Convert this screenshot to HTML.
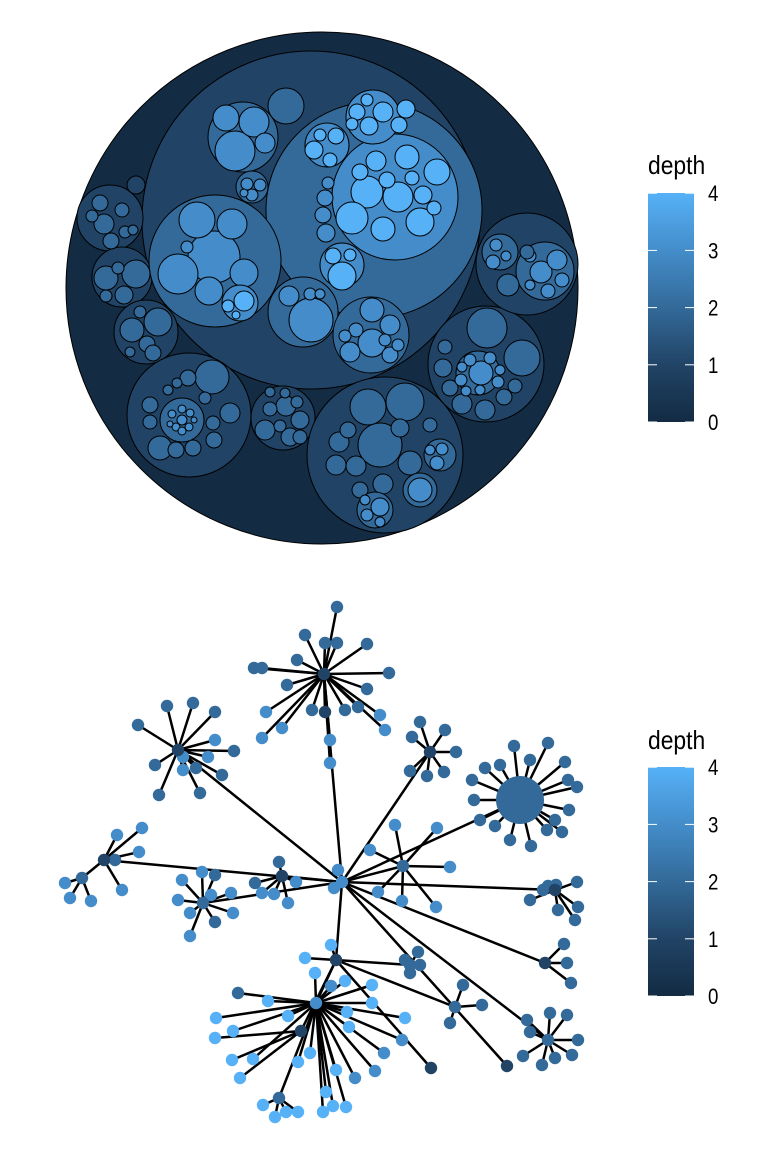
<!DOCTYPE html>
<html><head><meta charset="utf-8"><style>
body{margin:0;background:#fff;width:768px;height:1152px;overflow:hidden}
svg{display:block}
text{font-family:"Liberation Sans",sans-serif}
</style></head><body>
<svg id="chart" width="768" height="1152">
<defs><linearGradient id="grad" x1="0" y1="1" x2="0" y2="0">
<stop offset="0" stop-color="#132B43"/><stop offset="0.25" stop-color="#214466"/><stop offset="0.5" stop-color="#336A99"/><stop offset="0.75" stop-color="#448DCA"/><stop offset="1" stop-color="#56B1F7"/></linearGradient></defs>
<g id="pack"></g>
<g id="net"></g>
<g id="legends"></g>
</svg>
<script>
// circle packing: [x, y, r, depth]
const packCircles = [
[322,288,256,0],
[311,220,169,1],[110,218,33,1],[136,185,9,1],[122,277,30,1],[146,332,32,1],[189,415,62,1],[283,418,32,1],[385,455,78,1],[486,364,58,1],[527,264,51,1],
[374,210,108,2],[215,261,66,2],[243,137,35,2],[286,106,18,2],[252,187,16,2],[303,312,35,2],[371,335,38,2],
[214,257,26,3],[178,274,20,3],[197,220,18,3],[232,224,15,3],[244,273,14,3],[209,291,14,3],[240,303,18,3],[187,247,6,3],
[244,301,10,4],[228,306,6,4],[236,315,4,4],
[235,151,20,3],[254,122,15,3],[226,118,13,3],[265,143,10,3],
[247,184,6,3],[260,185,6,3],[252,195,6,3],[244,193,4,3],
[311,320,22,3],[289,296,10,3],[310,294,6,3],[320,294,5,3],
[372,343,14,3],[372,310,12,3],[390,325,10,3],[350,352,10,3],[390,355,8,3],[356,330,7,3],[345,336,6,3],[398,345,6,3],[385,340,6,3],
[395,197,63,3],[367,192,16,4],[352,218,16,4],[398,197,15,4],[420,222,14,4],[383,229,12,4],[407,157,12,4],[437,172,13,4],[376,161,10,4],[387,180,8,4],[423,195,9,4],[434,208,7,4],[360,172,8,4],[412,178,7,4],
[342,265,22,3],[342,276,14,4],[333,256,8,4],[350,255,6,4],
[327,145,22,3],[314,150,9,4],[330,160,7,4],[336,136,8,4],[320,135,6,4],
[373,117,27,3],[383,112,10,4],[357,112,8,4],[369,126,9,4],[399,125,8,4],[406,109,9,4],[352,124,6,4],[367,100,6,4],
[328,183,6,3],[325,198,8,3],[323,215,8,3],[326,233,9,3],
[104,224,10,2],[100,203,8,2],[122,210,7,2],[111,241,8,2],[125,232,6,2],[92,216,6,2],[133,230,5,2],
[106,278,12,2],[136,274,14,2],[118,268,6,2],[124,295,9,2],[106,296,6,2],
[158,322,14,2],[132,330,12,2],[147,344,8,2],[130,352,5,2],[153,353,8,2],[140,312,6,2],
[212,377,17,2],[188,378,8,2],[230,413,10,2],[160,448,12,2],[176,450,8,2],[193,448,8,2],[214,440,8,2],[213,423,7,2],[150,405,8,2],[168,390,5,2],[177,383,5,2],[150,422,7,2],[205,398,6,2],[182,420,22,2],
[182,420,5,3],[172,414,4,3],[190,413,4,3],[176,427,4,3],[189,427,4,3],[182,409,4,3],[182,431,4,3],[170,424,3,3],[194,420,3,3],
[265,430,10,2],[286,406,10,2],[300,420,9,2],[290,437,9,2],[270,409,7,2],[280,426,6,2],[297,402,6,2],[300,437,7,2],[270,392,5,2],[285,393,5,2],
[380,445,22,2],[405,402,19,2],[368,407,18,2],[410,463,12,2],[339,442,10,2],[336,465,10,2],[356,466,10,2],[383,484,10,2],[400,428,9,2],[348,430,8,2],[430,425,7,2],[360,490,8,2],
[420,490,17,2],[420,490,12,3],
[440,455,16,2],[437,463,7,3],[442,449,6,3],[430,450,5,3],
[375,510,18,2],[380,507,9,3],[367,515,6,3],[380,522,5,3],[365,500,5,3],
[487,328,20,2],[522,358,18,2],[443,368,9,2],[462,404,10,2],[485,410,10,2],[504,397,8,2],[450,388,8,2],[515,386,7,2],[445,347,7,2],
[478,373,22,2],[481,373,12,3],[461,380,6,3],[498,382,6,3],[470,360,6,3],[490,358,6,3],[462,367,5,3],[500,370,5,3],[480,390,5,3],[466,391,5,3],
[500,252,18,2],[493,262,7,3],[496,245,6,3],[506,256,5,3],
[545,271,29,2],[541,272,11,3],[557,260,10,3],[562,280,7,3],[530,256,6,3],[548,291,7,3],[530,285,5,3],
[508,285,11,2],[527,252,7,2]
];
// network hubs: [x, y, depth, parentIndex]
const hubs = [
[342,882,3,-1],[324,674,1,0],[178,750,1,0],[430,752,1,0],[520,800,2,0],[403,866,2,0],
[282,876,1,0],[104,860,1,0],[203,903,2,0],[336,960,1,0],[555,890,1,0],[545,963,1,0],
[548,1040,2,0],[316,1003,3,9],[455,1007,2,9],[410,965,2,9],[82,878,2,7],[279,1098,2,13],[301,1031,1,9]
];
// network leaves: [x, y, depth, hubIndex]
const leaves = [
[338,870,3,0],[334,888,3,0],[507,1066,1,0],[431,1068,1,9],
[337,607,2,1],[325,643,2,1],[337,643,2,1],[305,635,2,1],[262,668,2,1],[367,644,2,1],[297,660,2,1],[325,712,1,1],[389,673,2,1],[358,707,2,1],[367,689,2,1],[287,685,2,1],[345,710,2,1],[312,710,2,1],[380,715,3,1],[254,668,2,1],[266,712,3,1],[282,728,3,1],[262,738,3,1],[330,740,3,1],[330,763,3,1],[385,730,3,1],
[138,725,2,2],[167,706,2,2],[193,703,2,2],[215,712,2,2],[215,740,3,2],[234,751,2,2],[222,775,2,2],[200,793,2,2],[159,795,2,2],[155,765,2,2],[183,757,3,2],[208,757,3,2],[196,768,2,2],[183,770,3,2],
[420,722,2,3],[445,730,2,3],[456,752,2,3],[412,737,2,3],[410,771,2,3],[427,776,2,3],[444,772,2,3],
[514,746,2,4],[548,743,2,4],[565,762,2,4],[568,780,2,4],[577,787,2,4],[569,810,2,4],[562,832,2,4],[547,830,2,4],[531,846,2,4],[510,840,2,4],[495,826,2,4],[480,820,2,4],[474,800,2,4],[472,780,2,4],[485,768,2,4],[500,765,2,4],[530,760,2,4],[555,820,2,4],
[395,825,3,5],[437,828,3,5],[450,867,3,5],[436,907,3,5],[402,901,3,5],[378,892,3,5],[370,850,3,5],
[279,862,2,6],[255,883,2,6],[262,893,3,6],[274,894,3,6],[288,903,3,6],[296,882,3,6],
[117,835,3,7],[142,828,3,7],[139,852,3,7],[122,890,3,7],[115,860,2,7],
[65,883,3,16],[70,898,3,16],[91,901,3,16],
[182,880,3,8],[202,872,3,8],[215,875,2,8],[231,893,3,8],[233,913,3,8],[215,922,2,8],[190,913,3,8],[190,936,3,8],[178,900,3,8],[211,895,3,8],
[331,945,4,9],[305,958,4,9],
[315,973,4,13],[331,986,3,13],[345,981,4,13],[372,985,4,13],[347,1012,4,13],[349,1027,4,13],[372,1003,4,13],[405,1018,4,13],[402,1040,3,13],[384,1053,3,13],[375,1071,3,13],[355,1078,3,13],[336,1070,4,13],[326,1092,4,13],[323,1112,4,13],[333,1106,4,13],[346,1107,4,13],[298,1062,4,13],[253,1059,4,13],[238,993,2,13],[268,1001,4,13],[216,1018,4,13],[233,1031,4,13],[310,1053,4,13],[288,1016,4,13],
[298,1112,4,17],[286,1112,4,17],[275,1117,4,17],[263,1105,4,17],
[240,1078,4,18],[232,1060,4,18],[215,1038,4,18],
[530,900,2,10],[548,886,2,10],[556,885,2,10],[577,882,2,10],[578,907,2,10],[558,910,2,10],[575,920,2,10],[543,890,2,10],
[564,944,2,11],[567,963,2,11],[571,983,2,11],
[527,1020,2,12],[550,1013,2,12],[567,1015,2,12],[578,1040,2,12],[572,1055,2,12],[555,1058,2,12],[542,1065,2,12],[523,1056,2,12],[530,1032,2,12],
[450,1023,2,14],[482,1005,2,14],[463,985,2,14],
[405,960,2,15],[420,965,2,15],[410,973,2,15],[418,952,2,15]
];
const depthStops = ["#132B43","#214466","#336A99","#448DCA","#56B1F7"];
const tickLabels = ["0","1","2","3","4"];
const NS="http://www.w3.org/2000/svg";
function col(d){return depthStops[Math.max(0,Math.min(4,Math.round(d)))];}
function mk(tag,attrs,parent){const e=document.createElementNS(NS,tag);for(const k in attrs)e.setAttribute(k,attrs[k]);parent.appendChild(e);return e;}

const pack=document.getElementById('pack');
packCircles.forEach(c=>{
  const e=mk('circle',{cx:c[0],cy:c[1],r:c[2],fill:col(c[3]),stroke:'#000','stroke-width':1},pack);
  
  
});

const net=document.getElementById('net');
const eg=mk('g',{},net);


const ng=mk('g',{},net);


hubs.forEach(h=>{if(h[3]>=0){const p=hubs[h[3]];const l=mk('line',{x1:p[0],y1:p[1],x2:h[0],y2:h[1],stroke:'#000','stroke-width':2.5},eg);
  
  }});
leaves.forEach(n=>{const p=hubs[n[3]];const l=mk('line',{x1:p[0],y1:p[1],x2:n[0],y2:n[1],stroke:'#000','stroke-width':2.5},eg);
  
  });
const blob=mk('circle',{cx:hubs[4][0],cy:hubs[4][1],r:24,fill:col(2)},ng);


leaves.forEach(n=>{const c=mk('circle',{cx:n[0],cy:n[1],r:6.2,fill:col(n[2])},ng);
  
  });
hubs.forEach(h=>{const c=mk('circle',{cx:h[0],cy:h[1],r:6.2,fill:col(h[2])},ng);
  
  });

const lg=document.getElementById('legends');
[[193,165],[767,740]].forEach((pos,i)=>{
  const top=pos[0],ty=pos[1];
  const t=mk('text',{x:648,y:ty+9,'font-size':26,fill:'#000',transform:'translate(648 0) scale(0.88 1) translate(-648 0)'},lg);t.textContent='depth';
  
  
  const r=mk('rect',{x:648,y:top,width:46,height:229,fill:'url(#grad)'},lg);
  
  
  tickLabels.forEach((lab,k)=>{
    const y=top+229-k*57.2;
    mk('line',{x1:648,x2:657,y1:y,y2:y,stroke:'#fff','stroke-width':1},lg);
    mk('line',{x1:685,x2:694,y1:y,y2:y,stroke:'#fff','stroke-width':1},lg);
    const tx=mk('text',{x:708,y:y+8,'font-size':22,fill:'#000',transform:'translate(708 0) scale(0.85 1) translate(-708 0)'},lg);tx.textContent=lab;
    
    
  });
});
</script>
</body></html>
